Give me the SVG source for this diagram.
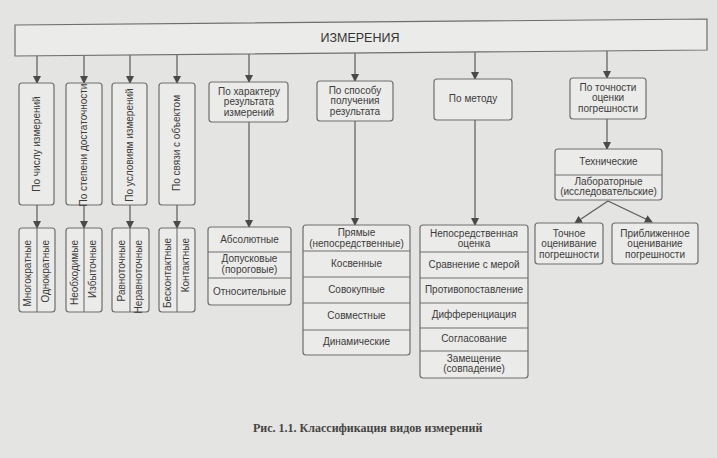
<svg xmlns="http://www.w3.org/2000/svg" width="717" height="458" viewBox="0 0 717 458">
<style>
.bg{fill:#e4e4e2}
.box{fill:#ebebe9;stroke:#6e6e6e;stroke-width:1.2}
.div{stroke:#6e6e6e;stroke-width:1.1;fill:none}
.ln{stroke:#5a5a5a;stroke-width:1.2;fill:none}
text{font-family:"Liberation Sans",Arial,sans-serif;font-size:10px;fill:#3c3c3c;text-anchor:middle;dominant-baseline:middle}
.top{text-anchor:end}
.big{font-size:12.5px;fill:#333}
.cap{font-family:"Liberation Serif","Times New Roman",serif;font-size:12px;font-weight:bold;fill:#444;text-anchor:start}
</style>
<defs>
<marker id="ar" markerWidth="8" markerHeight="8" refX="7" refY="4" orient="auto" markerUnits="userSpaceOnUse">
<path d="M0,0 L8,4 L0,8 Z" fill="#4a4a4a"/>
</marker>
</defs>
<rect class="bg" x="0" y="0" width="717" height="458"/>

<g id="connectors">
<path class="ln" marker-end="url(#ar)" d="M37,56 V83"/>
<path class="ln" marker-end="url(#ar)" d="M84,56 V83"/>
<path class="ln" marker-end="url(#ar)" d="M130,55 V83"/>
<path class="ln" marker-end="url(#ar)" d="M177,55 V83"/>
<path class="ln" marker-end="url(#ar)" d="M249,54 V82"/>
<path class="ln" marker-end="url(#ar)" d="M355,53 V81"/>
<path class="ln" marker-end="url(#ar)" d="M475,52 V79"/>
<path class="ln" marker-end="url(#ar)" d="M607,51 V78"/>
<path class="ln" marker-end="url(#ar)" d="M37,205 V228"/>
<path class="ln" marker-end="url(#ar)" d="M84,205 V228"/>
<path class="ln" marker-end="url(#ar)" d="M130,205 V228"/>
<path class="ln" marker-end="url(#ar)" d="M177,205 V228"/>
<path class="ln" marker-end="url(#ar)" d="M249,122 V227"/>
<path class="ln" marker-end="url(#ar)" d="M355,121 V225"/>
<path class="ln" marker-end="url(#ar)" d="M475,120 V225"/>
<path class="ln" marker-end="url(#ar)" d="M607,119 V149"/>
<path class="ln" marker-end="url(#ar)" d="M608,201 L575,223"/>
<path class="ln" marker-end="url(#ar)" d="M608,201 L652,222"/>
</g>

<g id="root">
<polygon class="box" points="15,25 707,19 707,50 15,56"/>
<text class="big" x="360" y="39">ИЗМЕРЕНИЯ</text>
</g>

<g id="n-chislu">
<rect class="box" x="19" y="83" width="35" height="122" rx="3"/>
<text transform="translate(37,144) rotate(-90)">По числу измерений</text>
</g>
<g id="n-stepeni">
<rect class="box" x="66" y="83" width="36" height="122" rx="3"/>
<text transform="translate(84,145) rotate(-90)">По степени достаточности</text>
</g>
<g id="n-usloviyam">
<rect class="box" x="112" y="83" width="35" height="122" rx="3"/>
<text transform="translate(130,145) rotate(-90)">По условиям измерений</text>
</g>
<g id="n-svyazi">
<rect class="box" x="159" y="83" width="36" height="122" rx="3"/>
<text transform="translate(177,143) rotate(-90)">По связи с объектом</text>
</g>

<g id="r-chislu">
<rect class="box" x="19" y="228" width="36" height="84" rx="3"/>
<path class="div" d="M37,228 V312"/>
<text class="top" transform="translate(28.5,240) rotate(-90)">Многократные</text>
<text class="top" transform="translate(46.5,240) rotate(-90)">Однократные</text>
</g>
<g id="r-stepeni">
<rect class="box" x="66" y="228" width="36" height="84" rx="3"/>
<path class="div" d="M84,228 V312"/>
<text class="top" transform="translate(75.5,240) rotate(-90)">Необходимые</text>
<text class="top" transform="translate(93.5,240) rotate(-90)">Избыточные</text>
</g>
<g id="r-usloviyam">
<rect class="box" x="112" y="228" width="37" height="84" rx="3"/>
<path class="div" d="M130,228 V312"/>
<text class="top" transform="translate(122,240) rotate(-90)">Равноточные</text>
<text class="top" transform="translate(139.5,240) rotate(-90)">Неравноточные</text>
</g>
<g id="r-svyazi">
<rect class="box" x="159" y="228" width="36" height="84" rx="3"/>
<path class="div" d="M177,228 V312"/>
<text class="top" transform="translate(168.5,238) rotate(-90)">Бесконтактные</text>
<text class="top" transform="translate(186.5,238) rotate(-90)">Контактные</text>
</g>

<g id="n-harakteru">
<rect class="box" x="209" y="82" width="79" height="40" rx="3"/>
<text x="249" y="92">По характеру</text>
<text x="249" y="102.5">результата</text>
<text x="249" y="113">измерений</text>
</g>
<g id="r-harakteru">
<rect class="box" x="208" y="227" width="83" height="78" rx="3"/>
<path class="div" d="M208,252 H291 M208,278 H291"/>
<text x="249.5" y="240">Абсолютные</text>
<text x="249.5" y="259.5">Допусковые</text>
<text x="249.5" y="270">(пороговые)</text>
<text x="249.5" y="292">Относительные</text>
</g>

<g id="n-sposobu">
<rect class="box" x="317" y="81" width="76" height="40" rx="3"/>
<text x="355" y="91">По способу</text>
<text x="355" y="101.5">получения</text>
<text x="355" y="112">результата</text>
</g>
<g id="r-sposobu">
<rect class="box" x="303" y="225" width="107" height="130" rx="3"/>
<path class="div" d="M303,251 H410 M303,277 H410 M303,303 H410 M303,330 H410"/>
<text x="356.5" y="233.5">Прямые</text>
<text x="356.5" y="244">(непосредственные)</text>
<text x="356.5" y="264">Косвенные</text>
<text x="356.5" y="290">Совокупные</text>
<text x="356.5" y="316.5">Совместные</text>
<text x="356.5" y="342.5">Динамические</text>
</g>

<g id="n-metodu">
<rect class="box" x="434" y="79" width="78" height="41" rx="3"/>
<text x="473" y="99.5">По методу</text>
</g>
<g id="r-metodu">
<rect class="box" x="420" y="225" width="108" height="153" rx="3"/>
<path class="div" d="M420,252 H528 M420,278 H528 M420,303 H528 M420,328 H528 M420,351 H528"/>
<text x="474" y="234">Непосредственная</text>
<text x="474" y="244.5">оценка</text>
<text x="474" y="265">Сравнение с мерой</text>
<text x="474" y="290.5">Противопоставление</text>
<text x="474" y="315.5">Дифференциация</text>
<text x="474" y="339.5">Согласование</text>
<text x="474" y="359">Замещение</text>
<text x="474" y="369.5">(совпадение)</text>
</g>

<g id="n-tochnosti">
<rect class="box" x="570" y="78" width="76" height="41" rx="3"/>
<text x="608" y="88">По точности</text>
<text x="608" y="98.5">оценки</text>
<text x="608" y="109">погрешности</text>
</g>
<g id="r-tochnosti">
<rect class="box" x="555" y="149" width="107" height="51" rx="3"/>
<path class="div" d="M555,175 H662"/>
<text x="608.5" y="162">Технические</text>
<text x="608.5" y="182">Лабораторные</text>
<text x="608.5" y="192.5">(исследовательские)</text>
</g>
<g id="n-tochnoe">
<rect class="box" x="535" y="223" width="68" height="41" rx="3"/>
<text x="569" y="234">Точное</text>
<text x="569" y="244.5">оценивание</text>
<text x="569" y="255">погрешности</text>
</g>
<g id="n-priblizh">
<rect class="box" x="612" y="223" width="86" height="41" rx="3"/>
<text x="655" y="234">Приближенное</text>
<text x="655" y="244.5">оценивание</text>
<text x="655" y="255">погрешности</text>
</g>

<text class="cap" x="253" y="429">Рис. 1.1. Классификация видов измерений</text>
</svg>
